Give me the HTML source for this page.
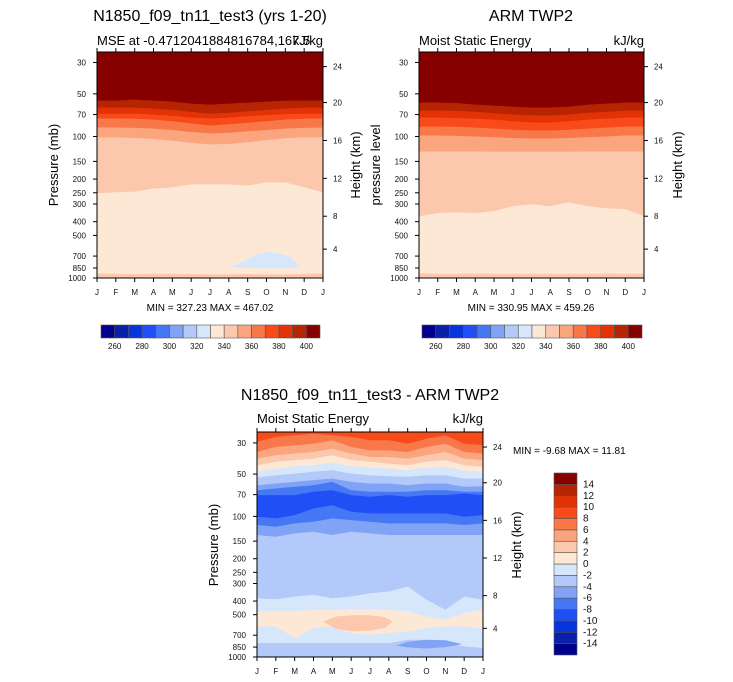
<!DOCTYPE html>
<html><head><meta charset="utf-8">
<style>
html,body{margin:0;padding:0;background:#fff;}
svg{display:block;font-family:"Liberation Sans",Arial,sans-serif;}
</style></head>
<body>
<svg id="fig" width="733" height="682" viewBox="0 0 733 682" xmlns="http://www.w3.org/2000/svg"></svg>
<script>
// ---------- data ----------
const months = ["J","F","M","A","M","J","J","A","S","O","N","D","J"];
const pressureTicks = [30,50,70,100,150,200,250,300,400,500,700,850,1000];
const heightTickLabels = [24,20,16,12,8,4];
const heightTickP = [32.1,57.6,106.7,197.6,366,625];
const palette = ["#00008c","#0a20a8","#0834dc","#1f4ff5","#4677f5","#80a3f6","#b2c9f9","#d7e7fb","#fde8d5","#fcc8ad","#fba57e","#f9784a","#f94b19","#e33306","#b72402","#860000"];
const absLevelLabels = [260,280,300,320,340,360,380,400];
const diffLevelLabels = [14,12,10,8,6,4,2,0,-2,-4,-6,-8,-10,-12,-14];

// Panel 1: model MSE, band bottom boundaries (mb) per month, top to bottom
const modelBandColors = [15,14,13,12,11,10,9,8];
const modelB15 = [55.8,55.8,54.9,55.8,56.7,58.6,59.5,58.6,57.6,56.7,55.8,55.8,55.8];
const modelB14 = [62.5,62.5,62.5,63.5,65,67,69,68,66.5,65,63.5,62.5,62.5];
const modelB13 = [69,69,69,70,71.5,73.5,74.7,73.5,72,70.5,69.5,69,69];
const modelB12 = [74.7,74.7,75,76,78,81,83.7,82,80,78,76,75,74.7];
const modelB11 = [86.4,86.4,87,88,90,93,95.3,94,92,90,88,87,86.4];
const modelB10 = [101.6,101.6,102.5,104,107,111,113.8,113,110,106,103,101.6,101.6];
const modelB9 = [252,248,245,233,229,218,218,218,222,211,211,229,248];
const modelB8 = [930,935,937,932,935,937,940,940,937,940,940,935,930];
const modelBg = 9;
const modelBlobMonths = [7.1,7.8,8.5,9.0,9.6,10.2,10.8,10.5,9.5,8.5,7.6];
const modelBlobP = [830,760,680,656,665,700,830,850,855,855,845];

// Panel 2: ARM obs
const obsBandColors = [15,14,13,12,11,10,9,8];
const obsB15 = [57.6,57.6,58,59.5,60.5,61.5,62.5,62.5,61.5,59.5,58.6,57.6,57.6];
const obsB14 = [65.6,65.6,66,67,68.5,70,71,71.1,70,68,67,65.6,65.6];
const obsB13 = [73.5,73.5,74,75,76,78,79.7,79.7,78,76,75,73.5,73.5];
const obsB12 = [85.1,85.1,85.5,86.5,88,89.5,90.7,90.7,89.5,88,86.5,85.1,85.1];
const obsB11 = [98.4,98.4,99,100,101,102.5,103.3,103.3,102.5,101,100,98.4,98.4];
const obsB10 = [127.6,127.6,127.6,127.6,128,128,128,128,128,127.6,127.6,127.6,127.6];
const obsB9 = [366,348,343,348,337,311,301,311,292,311,321,327,366];
const obsB8 = [925,935,935,930,935,935,935,935,935,935,930,935,930];
const obsBg = 9;

// Panel 3: difference
const diffBandColors = [12,11,10,9,8,7,6,5,4,3,4,5,6,7,8,7];
const diffB1 = [29.5,27.2,26.5,25.8,26.5,27.2,28.7,28.7,30.4,28.0,26.5,30.4,31.2];
const diffB2 = [34.8,32.1,31.2,30.4,28.7,32.1,33.9,33.9,34.8,32.1,30.4,34.8,35.7];
const diffB3 = [38.8,36.7,35.7,34.8,33.0,35.7,37.8,37.8,38.8,36.7,34.8,38.8,39.8];
const diffB4 = [43.3,40.9,39.8,38.8,36.7,39.8,40.9,42.1,43.3,40.9,39.8,43.3,44.5];
const diffB5 = [48.2,45.7,44.0,43.3,41.6,44.0,44.9,45.7,46.9,44.9,44.5,47.4,48.2];
const diffB6 = [52.9,50.9,49.6,48.2,46.9,49.6,50.9,51.8,52.3,50.9,50.9,53.8,53.8];
const diffB7 = [60.0,58.3,56.8,55.2,53.8,56.8,58.3,58.3,60.0,58.3,58.3,61.6,61.0];
const diffB8 = [65.1,63.3,61.6,60.0,56.8,65.1,66.8,66.8,66.8,65.1,65.1,66.8,66.8];
const diffB9 = [70.6,70.6,70.6,66.8,65.1,70.6,72.5,70.6,72.5,70.6,70.6,68.7,70.6];
const diffB10 = [100.5,103.3,97.9,87.8,83.2,92.7,95.2,95.2,95.2,95.2,95.2,100.5,97.9];
const diffB11 = [115.2,118.4,112.2,109.1,103.3,106.2,109.1,112.2,112.2,112.2,112.2,115.2,112.2];
const diffB12 = [135.6,139.4,132.1,128.5,135.6,128.5,132.1,135.6,135.6,135.6,135.6,135.6,135.6];
const diffB13 = [382,388,371,361,382,371,352,342,315,392,462,371,392];
const diffB14 = [474,474,474,462,462,457,457,462,474,515,543,488,462];
const diffB15 = [607,607,733,622,607,676,695,676,658,622,607,607,622];
const diffB16 = [796,796,796,796,796,796,796,796,754,754,796,840,863];
const diffBg = 6;
const diffBlobAMonths = [3.5,4.2,5,6,6.8,7.2,6.8,6,5,4.2];
const diffBlobAP = [560,515,505,505,520,560,620,650,655,630];
const diffBlobBMonths = [7.4,8,9,10,10.9,10,9,8];
const diffBlobBP = [830,780,755,760,810,850,870,855];

// ---------- drawing ----------
const NS = "http://www.w3.org/2000/svg";
const svg = document.getElementById("fig");
function mk(tag, attrs, parent){ const e=document.createElementNS(NS,tag); for(const k in attrs) e.setAttribute(k,attrs[k]); (parent||svg).appendChild(e); return e; }
function txt(s, x, y, size, anchor, parent, rot){
  const t = mk("text",{x:x,y:y,"font-size":size,"text-anchor":anchor||"start",fill:"#111"},parent);
  if(rot) t.setAttribute("transform","rotate("+rot+" "+x+" "+y+")");
  t.textContent = s; return t;
}

function panel(cfg){
  const g = mk("g",{});
  
  
  const x0=cfg.x0, x1=cfg.x1, yt=cfg.yt, yb=cfg.yb, ptop=cfg.ptop;
  const xs = m => x0 + m/12*(x1-x0);
  const ys = p => yb - (yb-yt)*Math.log10(1000/p)/Math.log10(1000/ptop);
  const bg = mk("rect",{x:x0,y:yt,width:x1-x0,height:yb-yt,fill:palette[cfg.bg]},g);
  
  
  for(let i=cfg.bands.length-1;i>=0;i--){
    const b = cfg.bands[i];
    let d = "M"+x0+","+yt;
    b.forEach((p,m)=>{ d += " L"+xs(m).toFixed(1)+","+ys(p).toFixed(1); });
    d += " L"+x1+","+yt+" Z";
    const path = mk("path",{d:d,fill:palette[cfg.colors[i]]},g);
    
    
  }
  (cfg.blobs||[]).forEach(bl=>{
    let d = bl.m.map((m,k)=>(k?"L":"M")+xs(m).toFixed(1)+","+ys(bl.p[k]).toFixed(1)).join(" ")+" Z";
    const path = mk("path",{d:d,fill:palette[bl.c]},g);
    
    
  });
  const frame = mk("rect",{x:x0,y:yt,width:x1-x0,height:yb-yt,fill:"none",stroke:"#000","stroke-width":1},g);
  
  
  months.forEach((mo,m)=>{
    const x = xs(m);
    mk("line",{x1:x,y1:yt,x2:x,y2:yt-4,stroke:"#000"},g);
    mk("line",{x1:x,y1:yb,x2:x,y2:yb+4,stroke:"#000"},g);
    const t = txt(mo,x,yb+17,8,"middle",g);
    
    
  });
  pressureTicks.forEach(p=>{
    const y = ys(p);
    mk("line",{x1:x0,y1:y,x2:x0-4,y2:y,stroke:"#000"},g);
    const t = txt(String(p),x0-11,y+3,8,"end",g);
    
    
  });
  heightTickP.forEach((p,k)=>{
    const y = ys(p);
    mk("line",{x1:x1,y1:y,x2:x1+4,y2:y,stroke:"#000"},g);
    const t = txt(String(heightTickLabels[k]),x1+10,y+3,8,"start",g);
    
    
  });
  return g;
}

function colorbarH(x0,x1,y0,y1,name){
  const g = mk("g",{});
  
  
  const w=(x1-x0)/16;
  palette.forEach((c,i)=>{
    const r = mk("rect",{x:x0+i*w,y:y0,width:w,height:y1-y0,fill:c,stroke:"#555","stroke-width":0.6},g);
    
    
  });
  absLevelLabels.forEach((v,k)=>{
    const t = txt(String(v),x0+(2*k+1)*w,y1+11,8,"middle",g);
    
    
  });
}

panel({name:"model-panel",x0:97,x1:323,yt:52,yb:278,ptop:25.3,bg:modelBg,colors:modelBandColors,
  bands:[modelB15,modelB14,modelB13,modelB12,modelB11,modelB10,modelB9,modelB8],
  blobs:[{c:7,m:modelBlobMonths,p:modelBlobP}]});
panel({name:"obs-panel",x0:419,x1:644,yt:52,yb:278,ptop:25.3,bg:obsBg,colors:obsBandColors,
  bands:[obsB15,obsB14,obsB13,obsB12,obsB11,obsB10,obsB9,obsB8]});
panel({name:"diff-panel",x0:257,x1:483,yt:432,yb:657,ptop:25.1,bg:diffBg,colors:diffBandColors,
  bands:[diffB1,diffB2,diffB3,diffB4,diffB5,diffB6,diffB7,diffB8,diffB9,diffB10,diffB11,diffB12,diffB13,diffB14,diffB15,diffB16],
  blobs:[{c:9,m:diffBlobAMonths,p:diffBlobAP},{c:5,m:diffBlobBMonths,p:diffBlobBP}]});

colorbarH(101,320,325,338,"model-colorbar");
colorbarH(422,642,325,338,"obs-colorbar");

(function(){
  const g = mk("g",{});
  
  
  const x0=554,x1=577,y0=473,y1=655,h=(y1-y0)/16;
  palette.forEach((c,i)=>{
    const r = mk("rect",{x:x0,y:y1-(i+1)*h,width:x1-x0,height:h,fill:c,stroke:"#555","stroke-width":0.6},g);
    
    
  });
  diffLevelLabels.forEach((v,k)=>{
    const t = txt(String(v),583,y0+(k+1)*h+3,10,"start",g);
    
    
  });
})();
</script>
<script>
(function(){
  const NS2="http://www.w3.org/2000/svg";
  const s=document.getElementById("fig");
  const items=[
   ["N1850_f09_tn11_test3 (yrs 1-20)",210,21,16,"middle",0,"model-title"],
   ["MSE at -0.4712041884816784,167.5",97,45,13,"start",0,"model-subtitle"],
   ["kJ/kg",323,45,13,"end",0,"model-units"],
   ["Pressure (mb)",58,165,13,"middle",-90,"model-y-axis-title"],
   ["Height (km)",360,165,13,"middle",-90,"model-height-axis-title"],
   ["MIN = 327.23 MAX = 467.02",210,311,10,"middle",0,"model-minmax"],
   ["ARM TWP2",531,21,16,"middle",0,"obs-title"],
   ["Moist Static Energy",419,45,13,"start",0,"obs-subtitle"],
   ["kJ/kg",644,45,13,"end",0,"obs-units"],
   ["pressure level",380,165,13,"middle",-90,"obs-y-axis-title"],
   ["Height (km)",682,165,13,"middle",-90,"obs-height-axis-title"],
   ["MIN = 330.95 MAX = 459.26",531,311,10,"middle",0,"obs-minmax"],
   ["N1850_f09_tn11_test3 - ARM TWP2",370,400,16,"middle",0,"diff-title"],
   ["Moist Static Energy",257,423,13,"start",0,"diff-subtitle"],
   ["kJ/kg",483,423,13,"end",0,"diff-units"],
   ["Pressure (mb)",218,545,13,"middle",-90,"diff-y-axis-title"],
   ["Height (km)",521,545,13,"middle",-90,"diff-height-axis-title"],
   ["MIN =  -9.68 MAX =  11.81",513,454,10,"start",0,"diff-minmax"]
  ];
  items.forEach(it=>{
    const t=document.createElementNS(NS2,"text");
    t.setAttribute("x",it[1]);t.setAttribute("y",it[2]);
    t.setAttribute("font-size",it[3]);t.setAttribute("text-anchor",it[4]);
    if(it[5]) t.setAttribute("transform","rotate("+it[5]+" "+it[1]+" "+it[2]+")");
    
    
    t.textContent=it[0];
    s.appendChild(t);
  });
})();
</script>
</body></html>
